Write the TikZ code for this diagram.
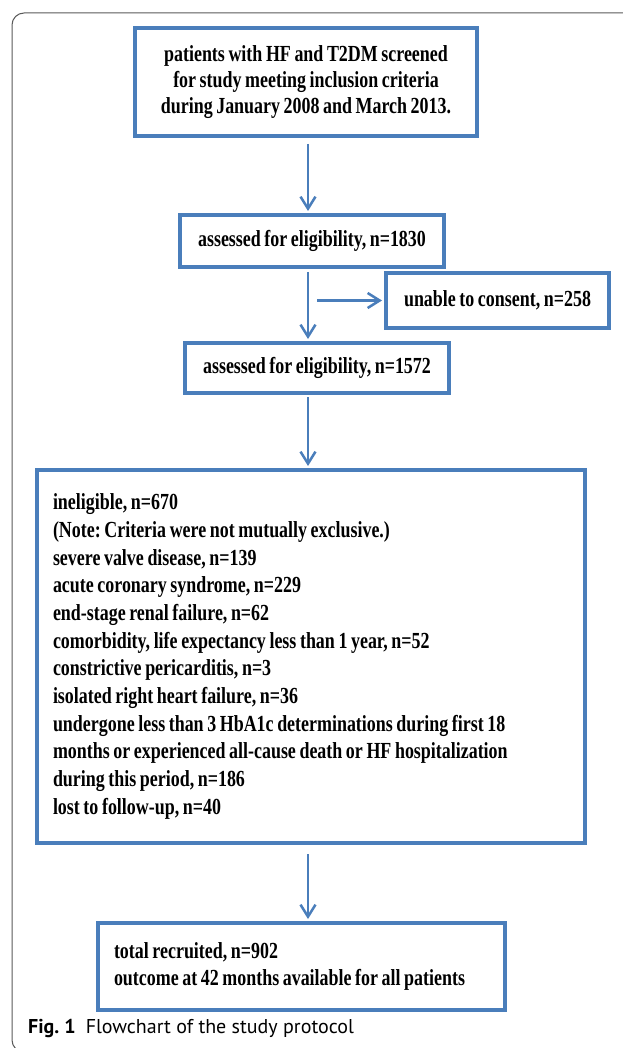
\documentclass[tikz,border=0pt]{standalone}
\usepackage{fontspec}
\setmainfont{Liberation Serif}
\newfontfamily\flowfont{Liberation Serif}[FakeStretch=0.78, WordSpace=0.8]
\newfontfamily\captionfont{PT Sans}
\usetikzlibrary{arrows.meta}
\definecolor{flowblue}{HTML}{4A7EBB}
\definecolor{framegray}{HTML}{5A5A5A}
\tikzset{
    flowbox/.style={draw=flowblue, line width=4pt, inner sep=0pt,
        font=\flowfont\bfseries\fontsize{23}{26}\selectfont},
    flowarrow/.style={draw=flowblue, line width=2.5pt, shorten >=2pt,
        -{Straight Barb[length=12pt,width=15pt]}},
}
\frenchspacing

\begin{document}
\begin{tikzpicture}[x=1pt,y=-1pt]
        \useasboundingbox[fill=white] (0,0) rectangle (622,1048);
        % outer frame
        \draw[framegray, line width=1pt, rounded corners=12pt] (12,13) rectangle (720,1052);
        \coordinate (spine) at (308,0);

        \node[flowbox, minimum width=342pt, minimum height=108pt, align=center] (screened) at (306,82)
            {patients with HF and T2DM screened\\for study meeting inclusion criteria\\during January 2008 and March 2013.};
        \node[flowbox, minimum width=264pt, minimum height=52pt] (assessedA) at (312,241) {assessed for eligibility, n=1830};
        \node[flowbox, minimum width=223pt, minimum height=55pt] (unable) at (497.5,300.5) {unable to consent, n=258};
        \node[flowbox, minimum width=264pt, minimum height=50pt] (assessedB) at (317,368) {assessed for eligibility, n=1572};
        \node[flowbox, minimum width=548pt, minimum height=373pt, text width=516pt, align=flush left,
            font=\flowfont\bfseries\fontsize{23}{27.7}\selectfont] (ineligible) at (311,656.5)
            {ineligible, n=670\\
            (Note: Criteria were not mutually exclusive.)\\
            severe valve disease, n=139\\
            acute coronary syndrome, n=229\\
            end-stage renal failure, n=62\\
            comorbidity, life expectancy less than 1 year, n=52\\
            constrictive pericarditis, n=3\\
            isolated right heart failure, n=36\\
            undergone less than 3 HbA1c determinations during first 18\\
            months or experienced all-cause death or HF hospitalization\\
            during this period, n=186\\
            lost to follow-up, n=40\\[4pt]};
        \node[flowbox, minimum width=407pt, minimum height=87pt, text width=375pt, align=flush left,
            font=\flowfont\bfseries\fontsize{23}{27}\selectfont] (recruited) at (301.5,966.5)
            {total recruited, n=902\\outcome at 42 months available for all patients};

        % arrows
        \draw[flowarrow] (screened.south -| spine) ++(0,6) -- (assessedA.north -| spine);
        \draw[flowarrow] (assessedA.south -| spine) ++(0,3) -- (assessedB.north -| spine);
        \draw[flowarrow] (spine |- unable.west) ++(9,0) -- (unable.west);
        \draw[flowarrow] (assessedB.south -| spine) ++(0,2) -- (ineligible.north -| spine);
        \draw[flowarrow] (ineligible.south -| spine) ++(0,9) -- (recruited.north -| spine);

        \node[anchor=base west, inner sep=0pt, font=\captionfont\fontsize{20}{24}\selectfont] (caption) at (28,1033)
            {\textbf{Fig. 1}\hspace{0.5em}Flowchart of the study protocol};
    \end{tikzpicture}
\end{document}
